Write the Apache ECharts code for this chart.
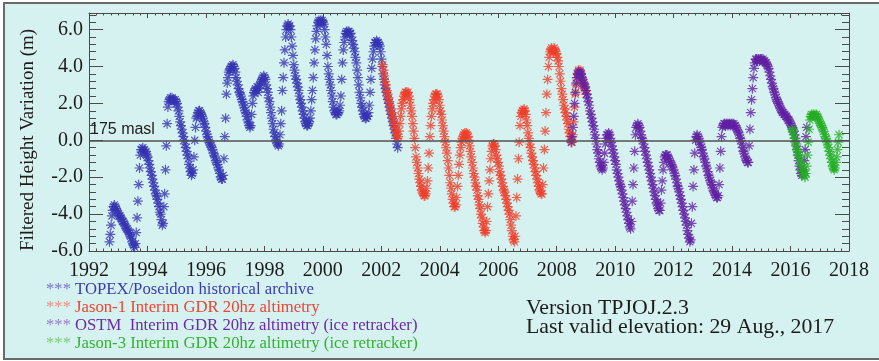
<!DOCTYPE html>
<html>
<head>
<meta charset="utf-8">
<script src="https://cdn.jsdelivr.net/npm/echarts@6/dist/echarts.min.js"></script>
<style>
  html, body { margin: 0; padding: 0; background: #ffffff; }
  #chart { width: 879px; height: 361px; }
</style>
</head>
<body>
<div id="chart"></div>
<script>
// Sampling interval of the altimetry record (≈10-day repeat cycle), in years
const CYCLE_STEP = 1 / 36;

// TOPEX/Poseidon (m), one value per cycle starting 1992.70
const topexStart = 1992.70;
const topexLevels = [
  -5.5, -5.1, -4.6, -4.1, -3.8, -3.6, -3.5, -3.6, -3.7,
  -3.8, -3.9, -4.0, -4.1, -4.1, -4.2, -4.3, -4.4, -4.4,
  -4.5, -4.6, -4.7, -4.8, -4.8, -4.9, -5.0, -5.1, -5.2,
  -5.3, -5.5, -5.6, -5.7, -5.8, -5.6, -5.0, -4.2, -3.3,
  -2.4, -1.5, -0.8, -0.5, -0.5, -0.4, -0.6, -0.5, -0.7,
  -0.6, -0.8, -0.9, -1.1, -1.3, -1.5, -1.7, -1.9, -2.1,
  -2.3, -2.5, -2.7, -2.9, -3.0, -3.2, -3.4, -3.6, -3.9,
  -4.0, -4.3, -4.6, -4.5, -3.6, -2.9, -1.6, -0.3, 0.9,
  1.8, 2.1, 2.2, 2.3, 2.2, 2.3, 2.2, 2.2, 2.1,
  2.2, 2.1, 2.0, 1.8, 1.6, 1.3, 1.0, 0.8, 0.6,
  0.4, 0.2, 0.0, -0.2, -0.4, -0.6, -0.8, -1.0, -1.3,
  -1.5, -1.7, -1.9, -1.8, -1.6, -0.9, 0.0, 0.7, 1.2,
  1.3, 1.5, 1.6, 1.6, 1.5, 1.4, 1.3, 1.2, 1.0,
  0.9, 0.7, 0.5, 0.3, 0.2, 0.0, -0.1, -0.2, -0.3,
  -0.4, -0.5, -0.7, -0.8, -0.9, -1.1, -1.2, -1.3, -1.5,
  -1.6, -1.8, -2.0, -2.1, -2.1, -1.9, -1.0, 0.2, 1.2,
  2.5, 3.1, 3.4, 3.7, 3.8, 3.9, 4.0, 4.0, 4.1,
  4.0, 3.9, 3.7, 3.4, 3.2, 3.0, 2.8, 2.6, 2.5,
  2.4, 2.2, 2.1, 1.9, 1.8, 1.6, 1.5, 1.3, 1.1,
  1.0, 0.8, 0.7, 0.8, 1.4, 2.0, 2.4, 2.6, 2.7,
  2.8, 2.7, 2.9, 2.6, 2.8, 3.0, 3.1, 3.2, 3.3,
  3.4, 3.5, 3.4, 3.3, 3.0, 2.8, 2.6, 2.3, 2.1,
  1.8, 1.5, 1.2, 0.9, 0.6, 0.4, 0.2, 0.0, -0.1,
  -0.2, -0.3, -0.2, 0.3, 0.9, 1.6, 2.7, 3.4, 4.2,
  4.9, 5.6, 6.0, 6.2, 6.3, 6.2, 6.2, 6.0, 5.6,
  5.1, 4.6, 4.1, 3.8, 3.5, 3.3, 3.1, 2.9, 2.7,
  2.4, 2.2, 2.0, 1.8, 1.6, 1.4, 1.2, 1.0, 0.9,
  0.8, 0.8, 0.9, 1.0, 1.2, 1.6, 2.2, 2.7, 3.4,
  4.2, 4.9, 5.5, 5.9, 6.2, 6.4, 6.5, 6.4, 6.5,
  6.4, 6.5, 6.4, 6.3, 6.0, 5.6, 5.2, 4.6, 4.0,
  3.6, 3.3, 3.0, 2.7, 2.4, 2.1, 1.8, 1.6, 1.5,
  1.4, 1.4, 1.5, 1.5, 1.6, 1.9, 2.4, 3.3, 4.2,
  4.9, 5.3, 5.6, 5.8, 5.9, 5.8, 5.9, 5.9, 5.8,
  5.8, 5.6, 5.4, 5.2, 5.0, 4.8, 4.5, 4.2, 3.8,
  3.4, 3.0, 2.6, 2.3, 2.0, 1.8, 1.6, 1.4, 1.3,
  1.2, 1.2, 1.3, 1.3, 1.5, 1.9, 2.6, 3.3, 3.9,
  4.4, 4.8, 5.1, 5.3, 5.3, 5.4, 5.3, 5.3, 5.2,
  5.1, 4.8, 4.4, 4.0, 3.6, 3.3, 3.0, 2.8, 2.6,
  2.4, 2.2, 2.0, 1.8, 1.6, 1.4, 1.2, 1.0, 0.8,
  0.6, 0.4, 0.1, -0.2, -0.4
];

// Jason-1 (m), starting 2002.05
const jason1Start = 2002.05;
const jason1Levels = [
  4.1, 3.8, 3.5, 3.2, 3.0, 2.7, 2.5, 2.3, 2.1,
  1.9, 1.7, 1.5, 1.3, 1.1, 0.9, 0.7, 0.5, 0.3,
  0.1, 0.2, 0.5, 0.9, 1.3, 1.7, 2.0, 2.2, 2.4,
  2.5, 2.6, 2.6, 2.5, 2.6, 2.4, 2.2, 1.9, 1.6,
  1.3, 0.9, 0.5, 0.1, -0.4, -0.9, -1.2, -1.5, -1.8,
  -2.1, -2.3, -2.5, -2.7, -2.8, -2.9, -3.0, -3.0, -2.9,
  -2.6, -2.2, -1.5, -0.7, 0.2, 0.8, 1.3, 1.7, 2.0,
  2.2, 2.4, 2.5, 2.5, 2.5, 2.4, 2.2, 1.9, 1.6,
  1.4, 1.1, 0.8, 0.5, 0.2, -0.1, -0.4, -0.7, -1.1,
  -1.5, -1.9, -2.3, -2.6, -2.9, -3.2, -3.4, -3.6, -3.6,
  -3.5, -3.1, -2.5, -1.9, -1.3, -0.8, -0.4, -0.1, 0.1,
  0.2, 0.3, 0.4, 0.3, 0.4, 0.3, 0.2, 0.0, -0.3,
  -0.6, -0.9, -1.2, -1.5, -1.8, -2.0, -2.3, -2.5, -2.7,
  -3.0, -3.2, -3.5, -3.7, -4.0, -4.2, -4.5, -4.7, -4.9,
  -5.0, -4.9, -4.4, -3.6, -2.9, -2.2, -1.6, -1.0, -0.6,
  -0.3, -0.2, -0.2, -0.3, -0.5, -0.8, -1.0, -1.2, -1.4,
  -1.7, -1.9, -2.1, -2.3, -2.5, -2.7, -2.8, -3.0, -3.2,
  -3.4, -3.6, -3.8, -4.0, -4.3, -4.6, -4.9, -5.2, -5.4,
  -5.5, -5.2, -4.1, -3.1, -2.1, -1.0, -0.1, 0.8, 1.3,
  1.5, 1.6, 1.6, 1.7, 1.6, 1.4, 1.1, 0.8, 0.4,
  0.1, -0.2, -0.4, -0.7, -0.9, -1.1, -1.3, -1.5, -1.7,
  -1.9, -2.1, -2.3, -2.5, -2.7, -2.8, -2.9, -2.9, -2.4,
  -1.5, -0.5, 0.5, 1.5, 2.5, 3.3, 4.0, 4.5, 4.8,
  4.9, 5.0, 4.9, 4.8, 5.0, 4.9, 4.8, 4.7, 4.5,
  4.3, 4.0, 3.6, 3.2, 2.8, 2.5, 2.2, 1.9, 1.7,
  1.5, 1.3, 1.1, 0.9, 0.6, 0.4, 0.2, 0.0, -0.1,
  0.3, 1.0, 1.8, 2.5, 3.0, 3.4, 3.6, 3.8, 3.7,
  3.8, 3.6, 3.4, 3.2, 3.1, 2.9, 2.8, 2.7, 2.5
];

// OSTM / Jason-2 (m), starting 2008.50
const ostmStart = 2008.50;
const ostmLevels = [
  -0.1, 0.2, 0.7, 1.3, 2.0, 2.6, 3.1, 3.4, 3.6,
  3.7, 3.6, 3.7, 3.6, 3.4, 3.3, 3.1, 3.0, 2.9,
  2.7, 2.5, 2.3, 2.1, 1.9, 1.6, 1.4, 1.2, 1.0,
  0.8, 0.6, 0.3, 0.1, -0.2, -0.5, -0.7, -1.0, -1.2,
  -1.4, -1.5, -1.6, -1.5, -1.2, -0.7, -0.2, 0.1, 0.3,
  0.3, 0.4, 0.3, 0.1, -0.1, -0.3, -0.5, -0.7, -0.9,
  -1.1, -1.3, -1.6, -1.8, -2.0, -2.2, -2.4, -2.5, -2.7,
  -2.9, -3.1, -3.3, -3.5, -3.7, -3.9, -4.1, -4.3, -4.5,
  -4.7, -4.8, -4.4, -3.3, -2.4, -1.5, -0.6, 0.3, 0.7,
  0.8, 0.9, 0.8, 0.7, 0.5, 0.3, 0.1, 0.0, -0.2,
  -0.4, -0.6, -0.8, -1.0, -1.2, -1.4, -1.6, -1.8, -2.0,
  -2.2, -2.4, -2.6, -2.8, -3.0, -3.2, -3.4, -3.5, -3.7,
  -3.8, -3.8, -3.4, -2.7, -2.2, -1.6, -1.2, -0.9, -0.8,
  -0.8, -0.8, -0.9, -1.0, -1.1, -1.2, -1.3, -1.4, -1.5,
  -1.6, -1.8, -1.9, -2.1, -2.3, -2.5, -2.6, -2.8, -3.0,
  -3.2, -3.4, -3.6, -3.8, -4.0, -4.2, -4.4, -4.6, -4.9,
  -5.1, -5.3, -5.5, -5.4, -4.5, -3.6, -2.5, -1.6, -0.7,
  0.0, 0.2, 0.3, 0.2, 0.1, -0.1, -0.2, -0.4, -0.5,
  -0.7, -0.9, -1.0, -1.2, -1.4, -1.5, -1.7, -1.9, -2.0,
  -2.2, -2.3, -2.4, -2.6, -2.7, -2.8, -2.9, -3.0, -3.1,
  -3.1, -3.0, -2.4, -1.5, -0.6, 0.2, 0.7, 0.8, 0.9,
  0.9, 0.8, 0.9, 0.9, 0.8, 0.9, 0.9, 0.8, 0.9,
  0.9, 0.8, 0.9, 0.8, 0.8, 0.7, 0.6, 0.5, 0.4,
  0.3, 0.1, 0.0, -0.2, -0.4, -0.6, -0.7, -0.9, -1.0,
  -1.1, -1.2, -1.2, -0.3, 0.6, 1.5, 2.2, 2.8, 3.4,
  3.9, 4.2, 4.4, 4.4, 4.3, 4.4, 4.4, 4.3, 4.4,
  4.4, 4.3, 4.4, 4.3, 4.3, 4.2, 4.2, 4.1, 4.0,
  3.9, 3.7, 3.5, 3.3, 3.1, 2.9, 2.8, 2.6, 2.5,
  2.3, 2.2, 2.1, 2.0, 1.9, 1.8, 1.7, 1.6, 1.5,
  1.5, 1.4, 1.4, 1.3, 1.3, 1.2, 1.1, 1.1, 1.0,
  0.9, 0.8, 0.7, 0.6, 0.5, 0.3, 0.1, -0.2, -0.5,
  -0.8, -1.1, -1.4, -1.6, -1.8, -1.9, -1.8, -1.6, -1.1,
  -0.5, 0.2, 0.7
];

// Jason-3 (m), starting 2016.05, last valid elevation 29 Aug 2017
const jason3Start = 2016.05;
const jason3Levels = [
  0.6, 0.5, 0.3, 0.1, -0.1, -0.3, -0.5, -0.6, -0.8,
  -0.9, -1.1, -1.3, -1.5, -1.7, -1.8, -1.9, -2.0, -1.8,
  -1.4, -0.8, -0.1, 0.6, 1.1, 1.3, 1.4, 1.3, 1.4,
  1.3, 1.4, 1.3, 1.4, 1.3, 1.2, 1.1, 1.0, 0.9,
  0.8, 0.7, 0.6, 0.5, 0.3, 0.2, 0.1, -0.1, -0.2,
  -0.4, -0.6, -0.8, -1.0, -1.2, -1.4, -1.5, -1.6, -1.5,
  -1.2, -0.9, -0.5, -0.1, 0.3
];

const missionNames = [
  'TOPEX/Poseidon historical archive',
  'Jason-1 Interim GDR 20hz altimetry',
  'OSTM  Interim GDR 20hz altimetry (ice retracker)',
  'Jason-3 Interim GDR 20hz altimetry (ice retracker)'
];
const missionColors = ['#3535b2', '#f03e2a', '#6220a2', '#24ae24'];
const keyTextColors = ['#3b3bb0', '#ee4433', '#6a2aa6', '#33b233'];
const keyStarColors = ['#7474cc', '#f28a7c', '#9a7acc', '#78cc78'];

const referenceLabel = '175 masl';
const yAxisTitle = 'Filtered Height Variation (m)';
const versionLines = ['Version TPJOJ.2.3', 'Last valid elevation: 29 Aug., 2017'];

function cycles(start, values) {
  return values.map((v, i) => [start + i * CYCLE_STEP, v]);
}

const AXIS_COLOR = '#4a4a4a';
const SERIF = "'Liberation Serif', 'Times New Roman', serif";
const SANS = "'Liberation Sans', Arial, sans-serif";
// IDL-style asterisk: plus sign overlaid with a cross
const ASTERISK = 'path://M0,4.5L9,4.5M4.5,0L4.5,9M1.3,1.3L7.7,7.7M7.7,1.3L1.3,7.7';

const seriesData = [
  cycles(topexStart, topexLevels),
  cycles(jason1Start, jason1Levels),
  cycles(ostmStart, ostmLevels),
  cycles(jason3Start, jason3Levels)
];

const series = seriesData.map((data, k) => ({
  type: 'scatter',
  name: missionNames[k],
  data: data,
  xAxisIndex: 0,
  yAxisIndex: 0,
  symbol: ASTERISK,
  symbolSize: 10,
  silent: true,
  itemStyle: { color: 'rgba(0,0,0,0)', borderColor: missionColors[k], borderWidth: 1.2 },
  z: 3 + k
}));

series[0].markLine = {
  silent: true,
  symbol: 'none',
  z: 10,
  lineStyle: { color: '#505050', width: 1.5, type: 'solid' },
  label: {
    show: true,
    position: 'insideStartTop',
    formatter: referenceLabel,
    fontFamily: SANS,
    fontSize: 16,
    color: '#202020',
    distance: [1, 3]
  },
  data: [{ yAxis: 0 }]
};

function xAxisDef(pos, showLabels) {
  return {
    type: 'value', position: pos, min: 1992, max: 2018, interval: 2,
    axisLine: { show: true, onZero: false, lineStyle: { color: AXIS_COLOR, width: 1 } },
    axisTick: { show: true, inside: true, length: 5, lineStyle: { color: AXIS_COLOR } },
    minorTick: { show: true, splitNumber: 8, length: 2.5, lineStyle: { color: AXIS_COLOR } },
    splitLine: { show: false },
    axisLabel: {
      show: showLabels, margin: 10, color: '#1c1c1c',
      fontFamily: SERIF, fontSize: 20,
      formatter: v => String(v)
    }
  };
}

function yAxisDef(pos, interval, tickLen, showLine, showLabels) {
  return {
    type: 'value', position: pos, min: -6, max: 6.9, interval: interval,
    axisLine: { show: showLine, onZero: false, lineStyle: { color: AXIS_COLOR, width: 1 } },
    axisTick: { show: true, inside: true, length: tickLen, lineStyle: { color: AXIS_COLOR } },
    splitLine: { show: false },
    axisLabel: {
      show: showLabels, margin: 6, color: '#1c1c1c',
      fontFamily: SERIF, fontSize: 20,
      formatter: v => (Math.abs(v / 2 - Math.round(v / 2)) < 1e-6 ? v.toFixed(1) : '')
    }
  };
}

// Caption lines below the plot: mission key on the left, version note on the right
const keyGraphics = [];
missionNames.forEach((name, k) => {
  const cy = 290 + k * 18;
  keyGraphics.push({
    type: 'text', x: 46, y: cy,
    style: { text: '***', fill: keyStarColors[k], font: '16.7px ' + SERIF, verticalAlign: 'middle' }
  });
  keyGraphics.push({
    type: 'text', x: 75, y: cy,
    style: { text: name, fill: keyTextColors[k], font: '16.7px ' + SERIF, verticalAlign: 'middle' }
  });
});

const chart = echarts.init(document.getElementById('chart'), null, { renderer: 'canvas' });
chart.setOption({
  animation: false,
  backgroundColor: '#ffffff',
  grid: { left: 89, right: 30, top: 13, bottom: 110, containLabel: false },
  xAxis: [xAxisDef('bottom', true), xAxisDef('top', false)],
  yAxis: [
    yAxisDef('left', 2, 14, true, true),
    yAxisDef('left', 0.4, 7, false, false),
    yAxisDef('right', 2, 14, true, false),
    yAxisDef('right', 0.4, 7, false, false)
  ],
  graphic: [
    {
      type: 'rect', z: -100, silent: true,
      shape: { x: 4, y: 3, width: 900, height: 356 },
      style: { fill: '#d6f2f0', stroke: '#6a6a6a', lineWidth: 2 }
    },
    {
      type: 'text', x: 28, y: 140, rotation: Math.PI / 2,
      style: { text: yAxisTitle, fill: '#1c1c1c', font: '19px ' + SERIF, align: 'center', verticalAlign: 'middle' }
    },
    {
      type: 'text', x: 526, y: 308,
      style: { text: versionLines[0], fill: '#1c1c1c', font: '21.8px ' + SERIF, verticalAlign: 'middle' }
    },
    {
      type: 'text', x: 526, y: 327,
      style: { text: versionLines[1], fill: '#1c1c1c', font: '21.8px ' + SERIF, verticalAlign: 'middle' }
    }
  ].concat(keyGraphics),
  series: series
});
</script>
</body>
</html>
